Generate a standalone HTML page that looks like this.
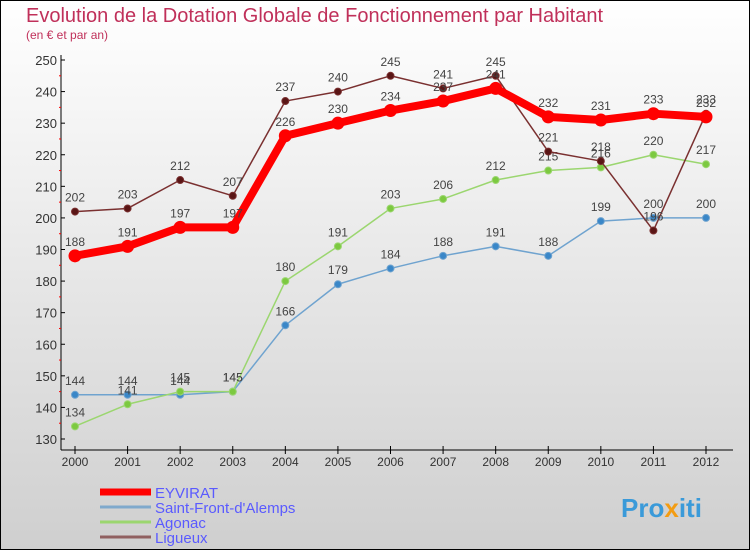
<!DOCTYPE html>
<html><head><meta charset="utf-8"><style>
body{margin:0}
svg{display:block;font-family:"Liberation Sans",sans-serif}
</style></head><body>
<svg id="c" width="750" height="550">
<defs><linearGradient id="bg" x1="0" y1="0" x2="0" y2="1"><stop offset="0" stop-color="#ffffff"/><stop offset="1" stop-color="#cfcfcf"/></linearGradient></defs>
<rect x="0.5" y="0.5" width="749" height="549" fill="url(#bg)" stroke="#000"/>
<text x="26" y="22" font-size="20" fill="#c0305a">Evolution de la Dotation Globale de Fonctionnement par Habitant</text>
<text x="26" y="39" font-size="12" fill="#c0305a">(en € et par an)</text>
<g id="g"></g>
<text x="621" y="517" font-size="26" font-weight="bold" fill="#3a9ad9">Pro<tspan fill="#f39c12">x</tspan>iti</text>
</svg>
<script>
const years=[2000,2001,2002,2003,2004,2005,2006,2007,2008,2009,2010,2011,2012];
const yTicks=[130,140,150,160,170,180,190,200,210,220,230,240,250];
const eyvirat=[188,191,197,197,226,230,234,237,241,232,231,233,232];
const saintFront=[144,144,144,145,166,179,184,188,191,188,199,200,200];
const agonac=[134,141,145,145,180,191,203,206,212,215,216,220,217];
const ligueux=[202,203,212,207,237,240,245,241,245,221,218,196,233];
const NS='http://www.w3.org/2000/svg';
const g=document.getElementById('g');
const xs=i=>75+i*(706-75)/12;
const ys=v=>439-(v-130)*(439-60)/120;
function el(t,a,p){const e=document.createElementNS(NS,t);for(const k in a)e.setAttribute(k,a[k]);(p||g).appendChild(e);return e;}
let ax=el('line',{x1:61,y1:55,x2:61,y2:450,stroke:'#000'});


let bx=el('line',{x1:61,y1:450,x2:733,y2:450,stroke:'#000'});


yTicks.forEach((v,i)=>{
  el('line',{x1:61,y1:ys(v),x2:65,y2:ys(v),stroke:'#000'});
  if(i<yTicks.length-1)el('line',{x1:59,y1:ys(v+5),x2:61,y2:ys(v+5),stroke:'#f00'});
  const t=el('text',{x:57,y:ys(v)+5,'font-size':13,fill:'#333','text-anchor':'end'});t.textContent=v;
  
  
});
years.forEach((y,i)=>{
  el('line',{x1:xs(i),y1:446,x2:xs(i),y2:454,stroke:'#000'});
  const t=el('text',{x:xs(i),y:466,'font-size':12,fill:'#333','text-anchor':'middle'});t.textContent=y;
  
  
});
function series(d,col,w,r,name,dot){
  const p=el('polyline',{points:d.map((v,i)=>xs(i)+','+ys(v)).join(' '),fill:'none',stroke:col,'stroke-width':w,'stroke-linejoin':'round'});
  
  
  d.forEach((v,i)=>{
    const c=el('circle',{cx:xs(i),cy:ys(v),r:r,fill:dot,stroke:col,'stroke-width':1});
    
    
    const t=el('text',{x:xs(i),y:ys(v)-10,'font-size':12,fill:'#444','text-anchor':'middle'});t.textContent=v;
    
    
  });
}
series(saintFront,'#6fa3cf',1.5,3.5,'saint-front','#3a87c8');
series(agonac,'#9bd66f',1.5,3.5,'agonac','#7cc940');
series(ligueux,'#7a3030',1.5,3.5,'ligueux','#5a1515');
series(eyvirat,'#f00',8,6,'eyvirat','#f00');
const legNames=['EYVIRAT',"Saint-Front-d'Alemps",'Agonac','Ligueux'];
const legCols=['#f00','#7fa9cc','#9bd66f','#906060'];
const legW=[7,3,3,3];
legNames.forEach((n,i)=>{
  const y=492+i*15;
  const l=el('line',{x1:100,y1:y,x2:151,y2:y,stroke:legCols[i],'stroke-width':legW[i]});
  
  
  const t=el('text',{x:155,y:y+6,'font-size':15,fill:'#5a5aff'});t.textContent=n;
  
  
});
</script>
</body></html>
